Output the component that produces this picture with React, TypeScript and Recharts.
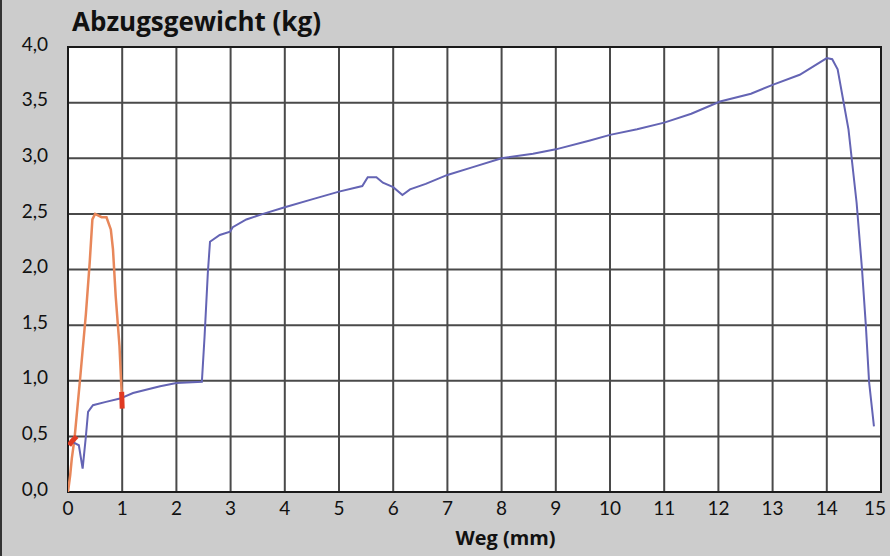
import { LineChart, Line, XAxis, YAxis, CartesianGrid, ReferenceArea } from 'recharts';

const xTicks = [0, 1, 2, 3, 4, 5, 6, 7, 8, 9, 10, 11, 12, 13, 14, 15];
const yTicks = [0, 0.5, 1, 1.5, 2, 2.5, 3, 3.5, 4];

const blueWeg = [
  0.08, 0.2, 0.27, 0.33, 0.37, 0.46, 0.7, 0.96, 1.2, 1.7, 2.0, 2.47, 2.52, 2.58, 2.62, 2.8, 2.99, 3.04,
  3.29, 3.6, 4.0, 4.5, 5.0, 5.43, 5.53, 5.69, 5.81, 6.0, 6.17, 6.31, 6.6, 7.0, 7.47, 8.0, 8.58, 9.0,
  9.63, 10.0, 10.5, 11.0, 11.5, 12.03, 12.6, 13.0, 13.5, 14.0, 14.1, 14.2, 14.4, 14.55, 14.65, 14.72,
  14.78, 14.87,
];
const blueKg = [
  0.45, 0.42, 0.21, 0.5, 0.72, 0.78, 0.81, 0.84, 0.89, 0.95, 0.98, 0.99, 1.4, 1.97, 2.25, 2.31, 2.34, 2.38,
  2.45, 2.5, 2.56, 2.63, 2.7, 2.75, 2.83, 2.83, 2.78, 2.74, 2.67, 2.72, 2.77, 2.85, 2.92, 3.0, 3.04, 3.08,
  3.16, 3.21, 3.26, 3.32, 3.4, 3.51, 3.58, 3.66, 3.75, 3.9, 3.89, 3.8, 3.26, 2.6, 2.0, 1.5,
  0.99, 0.59,
];

const orangeWeg = [0.0, 0.04, 0.07, 0.12, 0.22, 0.33, 0.4, 0.45, 0.5, 0.62, 0.71, 0.79, 0.83, 0.88, 0.95, 0.99, 1.0];
const orangeKg = [0.0, 0.15, 0.3, 0.48, 1.0, 1.6, 2.06, 2.45, 2.5, 2.47, 2.47, 2.36, 2.18, 1.76, 1.31, 0.89, 0.77];

const redStartWeg = [0.02, 0.08, 0.16];
const redStartKg = [0.42, 0.46, 0.5];
const redEndWeg = [0.99, 1.0];
const redEndKg = [0.9, 0.75];

const zip = (xs: number[], ys: number[]) => xs.map((x, i) => ({ x, y: ys[i] }));

const blueData = zip(blueWeg, blueKg);
const orangeData = zip(orangeWeg, orangeKg);
const redStart = zip(redStartWeg, redStartKg);
const redEnd = zip(redEndWeg, redEndKg);

const tickFont = { fontFamily: 'Lato, sans-serif', fontSize: 19, fill: '#111' };

// last x label sits a little inside the frame, like the original
const XTick = ({ x, y, payload }: any) => (
  <text
    x={payload.value === 15 ? x - 6 : x}
    y={y}
    dy="0.71em"
    textAnchor="middle"
    {...tickFont}
  >
    {payload.value}
  </text>
);

export default function App() {
  return (
    <div
      style={{
        position: 'absolute',
        left: 0,
        top: 0,
        width: 890,
        height: 556,
        background: '#cccccc',
        boxSizing: 'border-box',
        borderLeft: '2px solid #333',
      }}
    >
      <div
        style={{
          position: 'absolute',
          left: 70,
          top: 3,
          fontFamily: '"Open Sans", sans-serif',
          fontWeight: 700,
          fontSize: 26,
          color: '#111',
          whiteSpace: 'nowrap',
        }}
      >
        Abzugsgewicht (kg)
      </div>
      <LineChart
        width={888}
        height={556}
        margin={{ top: 47, right: 7, left: 0, bottom: 0 }}
        style={{ position: 'absolute', left: -2, top: 0 }}
      >
        <CartesianGrid
          stroke="#4a4a4a"
          strokeWidth={2}
          fill="#ffffff"
          horizontalValues={yTicks}
          verticalValues={xTicks}
        />
        <XAxis
          type="number"
          dataKey="x"
          domain={[0, 15]}
          ticks={xTicks}
          interval={0}
          allowDataOverflow
          axisLine={false}
          tickLine={false}
          tickMargin={4}
          tick={<XTick />}
          height={64}
          label={({ viewBox }: any) => (
            <text
              x={viewBox.x + viewBox.width / 2 + 31}
              y={viewBox.y + 53}
              textAnchor="middle"
              fontFamily='"Open Sans", sans-serif'
              fontWeight={700}
              fontSize={20}
              fill="#111"
              textLength={100}
              lengthAdjust="spacingAndGlyphs"
            >
              Weg (mm)
            </text>
          )}
        />
        <YAxis
          type="number"
          dataKey="y"
          domain={[0, 4]}
          ticks={yTicks}
          interval={0}
          allowDataOverflow
          axisLine={false}
          tickLine={false}
          tickMargin={14}
          width={68}
          tick={{ ...tickFont, dy: -3 }}
          tickFormatter={(v: number) => v.toFixed(1).replace('.', ',')}
        />
        <ReferenceArea
          x1={0}
          x2={15}
          y1={0}
          y2={4}
          fill="none"
          stroke="#1a1a1a"
          strokeWidth={2}
          ifOverflow="visible"
        />
        <Line
          data={orangeData}
          dataKey="y"
          type="linear"
          stroke="#e8875a"
          strokeWidth={2.5}
          dot={false}
          isAnimationActive={false}
        />
        <Line
          data={blueData}
          dataKey="y"
          type="linear"
          stroke="#6464b4"
          strokeWidth={2}
          dot={false}
          isAnimationActive={false}
        />
        <Line
          data={redStart}
          dataKey="y"
          type="linear"
          stroke="#e03a22"
          strokeWidth={5}
          dot={false}
          isAnimationActive={false}
        />
        <Line
          data={redEnd}
          dataKey="y"
          type="linear"
          stroke="#e03a22"
          strokeWidth={5}
          dot={false}
          isAnimationActive={false}
        />
      </LineChart>
    </div>
  );
}
